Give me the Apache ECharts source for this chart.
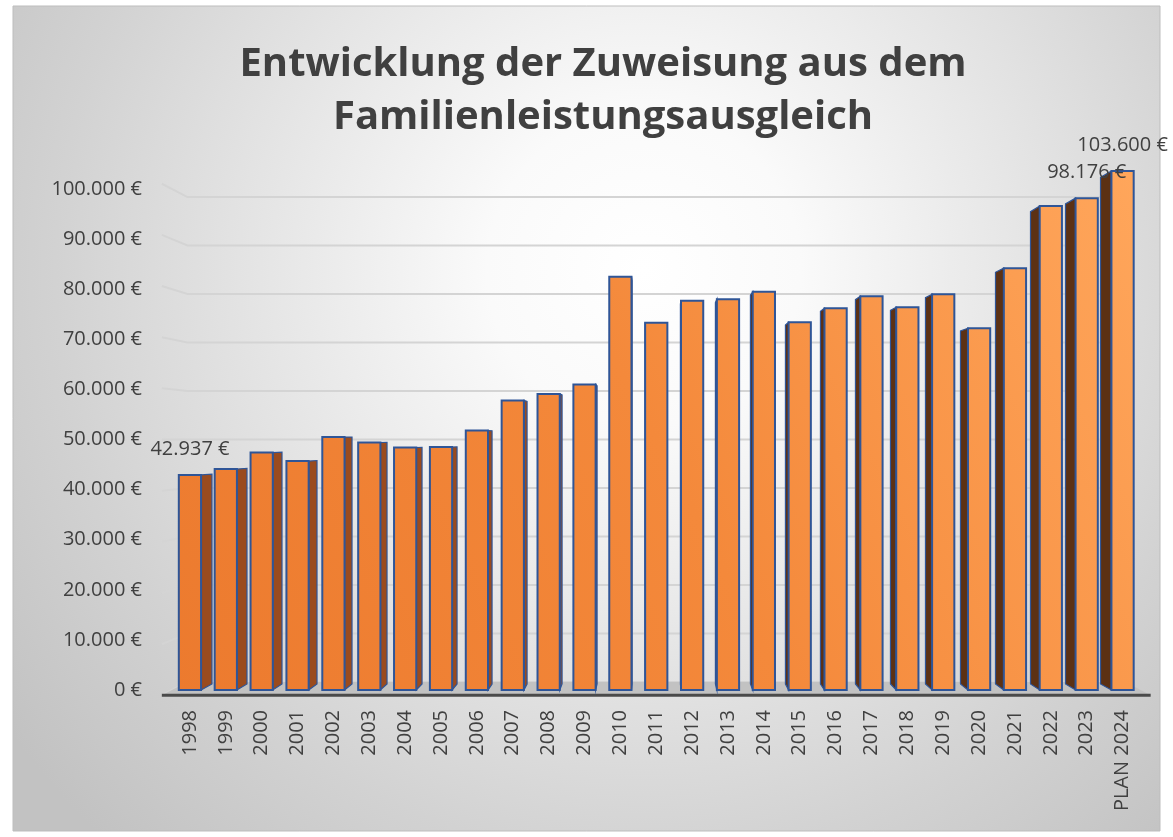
<!DOCTYPE html>
<html>
<head>
<meta charset="utf-8">
<script src="https://cdn.jsdelivr.net/npm/echarts@6/dist/echarts.min.js"></script>
<style>
  html, body { margin: 0; padding: 0; background: #fff; }
  #chart { width: 1173px; height: 837px; }
</style>
</head>
<body>
<div id="chart"></div>
<script>
var years = ['1998','1999','2000','2001','2002','2003','2004','2005','2006','2007','2008','2009',
  '2010','2011','2012','2013','2014','2015','2016','2017','2018','2019','2020','2021','2022','2023','PLAN 2024']
var amounts = [42937, 44100, 47400, 45700, 50500, 49400, 48400, 48500, 51800, 57800, 59100, 61000,
  82500, 73300, 77700, 78000, 79500, 73400, 76200, 78600, 76400, 79000, 72200, 84200, 96600, 98176, 103600]
var labeledYears = ['1998', '2023', 'PLAN 2024']
var yTicks = [0, 10000, 20000, 30000, 40000, 50000, 60000, 70000, 80000, 90000, 100000]

var FONT = '"Open Sans", "Noto Sans", sans-serif'

function euro(v) {
  return String(Math.round(v)).replace(/\B(?=(\d{3})+(?!\d))/g, '.') + ' €'
}

// perspective helper: scale a point towards the middle of the plot
function projector(cs) {
  var vx = cs.x + cs.width / 2
  var vy = cs.y + cs.height / 2
  return {
    vx: vx, vy: vy,
    p: function (pt, s) { return [vx + (pt[0] - vx) * s, vy + (pt[1] - vy) * s] }
  }
}

function renderGrid(params, api) {
  var cs = params.coordSys
  var pr = projector(cs)
  var y = api.coord([0, api.value(1)])[1]
  var front = pr.p([cs.x, y], 1.021)
  var bl = pr.p([cs.x, y], 0.968)
  var br = pr.p([cs.x + cs.width, y], 0.968)
  return {
    type: 'polyline',
    shape: { points: [front, bl, br] },
    style: { stroke: '#d4d4d4', lineWidth: 2, fill: null }
  }
}

function renderFloor(params, api) {
  var cs = params.coordSys
  var pr = projector(cs)
  var y0 = api.coord([0, 0])[1]
  var fl = pr.p([cs.x, y0], 1.021)
  var fr = pr.p([cs.x + cs.width, y0], 1.021)
  var br = pr.p([cs.x + cs.width, y0], 0.968)
  var bl = pr.p([cs.x, y0], 0.968)
  return {
    type: 'group',
    children: [
      { type: 'polygon', shape: { points: [fl, fr, br, bl] }, style: { fill: '#c2c2c2' } },
      { type: 'line', shape: { x1: fl[0], y1: fl[1], x2: fr[0], y2: fr[1] },
        style: { stroke: '#4a4a4a', lineWidth: 3 } }
    ]
  }
}

function renderBar(params, api) {
  var cs = params.coordSys
  var pr = projector(cs)
  var idx = api.value(0)
  var val = api.value(1)
  var top = api.coord([idx, val])
  var base = api.coord([idx, 0])
  var bw = api.size([1, 0])[0] * 0.62
  var x0 = top[0] - bw / 2
  var x1 = top[0] + bw / 2
  var leftSide = top[0] < pr.vx
  var sx = leftSide ? x1 : x0
  var side = [[sx, top[1]], pr.p([sx, top[1]], 0.976), pr.p([sx, base[1]], 0.976), [sx, base[1]]]
  var frontFill = new echarts.graphic.LinearGradient(cs.x, cs.y + cs.height, cs.x + cs.width, cs.y, [
    { offset: 0, color: '#ec7a2e' },
    { offset: 0.5, color: '#f4893b' },
    { offset: 1, color: '#ffa65b' }
  ], true)
  return {
    type: 'group',
    children: [
      { type: 'polygon', shape: { points: side },
        style: { fill: leftSide ? '#9a4b1e' : '#5c3114', stroke: '#2f5597', lineWidth: 1.2 } },
      { type: 'rect', shape: { x: x0, y: top[1], width: bw, height: base[1] - top[1] },
        style: { fill: frontFill, stroke: '#2f5597', lineWidth: 2 } }
    ]
  }
}

// data labels only for first, last actual and plan year, drawn above all bars
function renderLabel(params, api) {
  var idx = api.value(0)
  if (labeledYears.indexOf(years[idx]) < 0) return null
  var val = api.value(1)
  var top = api.coord([idx, val])
  return {
    type: 'text',
    z2: 100,
    style: {
      text: euro(val), x: top[0], y: top[1] - 16,
      align: 'center', verticalAlign: 'bottom', textAlign: 'center', textVerticalAlign: 'bottom',
      fontSize: 20, fontFamily: FONT, fill: '#404040'
    }
  }
}

var myChart = echarts.init(document.getElementById('chart'))
var barData = amounts.map(function (v, i) { return [i, v] })
var option = {
  animation: false,
  textStyle: { fontFamily: FONT },
  graphic: [
    {
      type: 'rect', z: -10, silent: true,
      shape: { x: 13, y: 6, width: 1147, height: 825 },
      style: {
        fill: {
          type: 'radial', x: 0.55, y: 0.32, r: 0.95,
          colorStops: [
            { offset: 0, color: '#ffffff' },
            { offset: 0.2, color: '#fafafa' },
            { offset: 0.75, color: '#d2d2d2' },
            { offset: 1, color: '#c2c2c2' }
          ]
        },
        stroke: '#bdbdbd', lineWidth: 1
      }
    },
    {
      type: 'text', z: 10, x: 603, y: 38,
      style: {
        text: 'Entwicklung der Zuweisung aus dem\nFamilienleistungsausgleich',
        align: 'center', verticalAlign: 'top', textAlign: 'center', textVerticalAlign: 'top',
        fontSize: 40, fontWeight: 'bold', fontFamily: FONT, lineHeight: 53, fill: '#404040'
      }
    }
  ],
  grid: { left: 172, right: 32.5, top: 189, bottom: 147 },
  xAxis: {
    type: 'category',
    data: years,
    axisLine: { show: false },
    axisTick: { show: false },
    axisLabel: { interval: 0, rotate: 90, margin: 20, fontSize: 20, color: '#404040', fontFamily: FONT }
  },
  yAxis: {
    type: 'value',
    min: 0,
    max: 100000,
    interval: 10000,
    splitLine: { show: false },
    axisLine: { show: false },
    axisTick: { show: false },
    axisLabel: { formatter: euro, margin: 30, fontSize: 20, color: '#404040', fontFamily: FONT }
  },
  series: [
    {
      type: 'custom', name: 'grid', z: 1, clip: false, silent: true,
      renderItem: renderGrid,
      data: yTicks.map(function (v) { return [0, v] })
    },
    {
      type: 'custom', name: 'floor', z: 2, clip: false, silent: true,
      renderItem: renderFloor,
      data: [[0, 0]]
    },
    {
      type: 'custom', name: 'Zuweisung', z: 3, clip: false,
      renderItem: renderBar,
      encode: { x: 0, y: 1 },
      data: barData
    },
    {
      type: 'custom', name: 'Beschriftung', z: 5, zlevel: 1, clip: false, silent: true,
      renderItem: renderLabel,
      encode: { x: 0, y: 1 },
      data: barData
    }
  ]
}
myChart.setOption(option)
</script>
</body>
</html>
